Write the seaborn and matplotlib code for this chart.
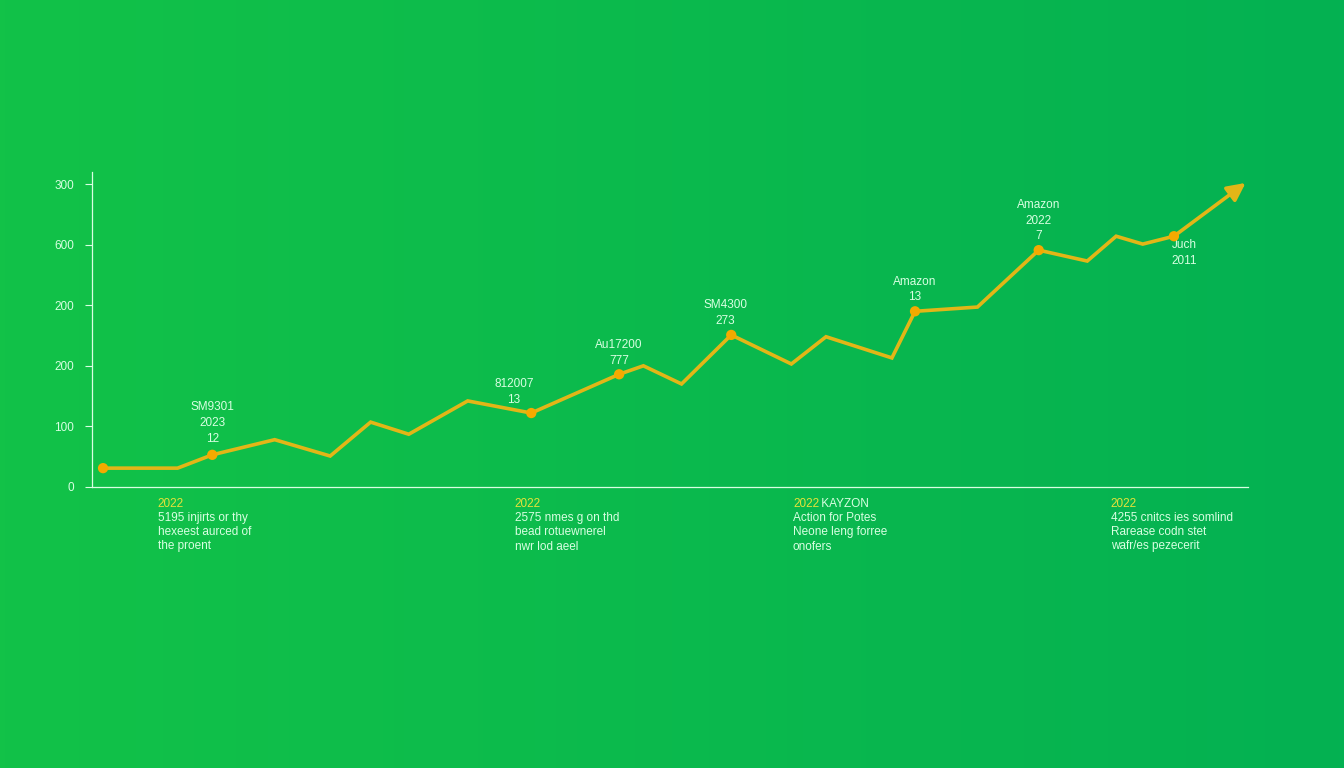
import numpy as np
import pandas as pd
import matplotlib
matplotlib.use("Agg")
import matplotlib.pyplot as plt
import seaborn as sns

# ---- data ----
x_vals = [0.95, 7.4, 10.4, 15.8, 20.6, 24.1, 27.4, 32.5, 38.0, 45.6, 47.7, 51.0,
          55.3, 60.5, 63.5, 69.2, 71.2, 76.6, 81.9, 86.1, 88.6, 90.9, 93.6, 99.8]
y_vals = [31, 31, 53, 78, 51, 107, 87, 142, 122, 186, 200, 170,
          251, 203, 248, 213, 290, 297, 391, 373, 414, 401, 414, 502]
marker_idx = [0, 2, 8, 9, 12, 16, 18, 22]

ytick_vals = [0, 100, 200, 300, 400, 500]
ytick_labels = ["0", "100", "200", "200", "600", "300"]

ann_text = ["SM9301\n2023\n12", "812007\n13", "Au17200\n777", "SM4300\n273",
            "Amazon\n13", "Amazon\n2022\n7", "Juch\n2011"]
ann_idx = [2, 8, 9, 12, 16, 18, 22]
ann_offset = [(0, 17), (-1.5, 12), (0, 12), (-0.5, 13), (0, 13), (0, 13), (0.9, -5)]
ann_va = ["bottom", "bottom", "bottom", "bottom", "bottom", "bottom", "top"]

note_x = [0.1175, 0.383, 0.59, 0.8265]
note_year = ["2022", "2022", "2022", "2022"]
note_head = ["", "", " KAYZON", ""]
note_body = ["5195 injirts or thy\nhexeest aurced of\nthe proent",
             "2575 nmes g on thd\nbead rotuewnerel\nnwr lod aeel",
             "Action for Potes\nNeone leng forree\nonofers",
             "4255 cnitcs ies somlind\nRarease codn stet\nwafr/es pezecerit"]

# ---- style ----
sns.set_theme(style="white")
plt.rcParams["font.family"] = ["Liberation Sans", "DejaVu Sans"]

LINE = "#e2b617"
MARK = "#f4aa00"
TXT = "#d9ffe2"
YEL = "#e6e23a"

fig = plt.figure(figsize=(13.44, 7.68), dpi=100)

# gradient background
bg = fig.add_axes([0, 0, 1, 1], zorder=-10)
w = np.linspace(0, 1, 256)
c_left = np.array([18, 194, 72]) / 255
c_right = np.array([4, 177, 82]) / 255
grad = (c_left[None, :] * (1 - w[:, None]) + c_right[None, :] * w[:, None])
img = np.tile(grad[None, :, :], (10, 1, 1))
bg.imshow(img, aspect="auto", extent=[0, 1, 0, 1])
bg.axis("off")

ax = fig.add_axes([0.0685, 0.366, 0.86, 0.41])
ax.patch.set_alpha(0)

df = pd.DataFrame({"x": x_vals, "y": y_vals})
main = df.iloc[:-1]
sns.lineplot(data=main, x="x", y="y", ax=ax, color=LINE, linewidth=2.6,
             solid_joinstyle="miter")
mk = df.iloc[marker_idx]
sns.scatterplot(data=mk, x="x", y="y", ax=ax, color=MARK, s=55,
                edgecolor="none", zorder=5)
ax.annotate("", xy=(x_vals[-1], y_vals[-1]), xytext=(x_vals[-2], y_vals[-2]),
            arrowprops=dict(arrowstyle="-|>,head_length=0.9,head_width=0.45",
                            color=LINE, lw=2.6, shrinkA=0, shrinkB=0))

for t, i, off, va in zip(ann_text, ann_idx, ann_offset, ann_va):
    ax.text(x_vals[i] + off[0], y_vals[i] + off[1], t, ha="center", va=va,
            color=TXT, fontsize=8.5, linespacing=1.4)

ax.set_xlim(0, 100)
ax.set_ylim(0, 520)
ax.set_yticks(ytick_vals)
ax.set_yticklabels(ytick_labels)
ax.set_xticks([])
ax.set_xlabel("")
ax.set_ylabel("")
ax.tick_params(axis="y", colors=TXT, labelcolor=TXT, labelsize=8.5,
               length=5, width=0.8, left=True, pad=8)
for s in ["top", "right"]:
    ax.spines[s].set_visible(False)
for s in ["left", "bottom"]:
    ax.spines[s].set_color(TXT)
    ax.spines[s].set_linewidth(0.9)

# bottom notes
for nx, yr, hd, body in zip(note_x, note_year, note_head, note_body):
    ty = 1 - 504 / 768
    fig.text(nx, ty, yr, color=YEL, fontsize=8.5, va="center", ha="left")
    if hd:
        fig.text(nx + 0.0185, ty, hd, color=TXT, fontsize=8.5, va="center", ha="left")
    fig.text(nx, 1 - 512 / 768, body, color=TXT, fontsize=8.5, va="top",
             ha="left", linespacing=1.25)

fig.savefig("out.png", dpi=100)
